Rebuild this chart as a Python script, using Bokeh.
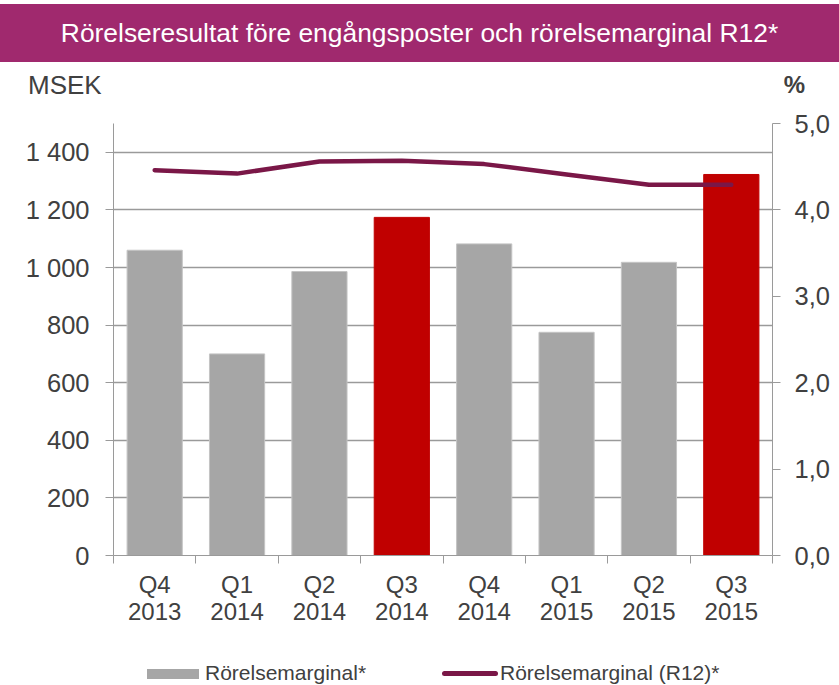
import numpy as np
from bokeh.plotting import figure
from bokeh.models import Range1d, LinearAxis, FixedTicker, Div
from bokeh.layouts import column
from bokeh.embed import file_html
from bokeh.resources import INLINE

# ---- data ----
quarters = ["Q4", "Q1", "Q2", "Q3", "Q4", "Q1", "Q2", "Q3"]
years = ["2013", "2014", "2014", "2014", "2014", "2015", "2015", "2015"]
result_msek = [1060, 700, 986, 1174, 1082, 775, 1018, 1323]
margin_r12 = [4.46, 4.42, 4.56, 4.57, 4.53, 4.41, 4.29, 4.29]
left_ticks = [0, 200, 400, 600, 800, 1000, 1200, 1400]
left_tick_labels = ["0", "200", "400", "600", "800", "1 000", "1 200", "1 400"]
right_ticks = [0, 1, 2, 3, 4, 5]
right_tick_labels = ["0,0", "1,0", "2,0", "3,0", "4,0", "5,0"]
title_text = "Rörelseresultat före engångsposter och rörelsemarginal R12*"
left_unit = "MSEK"
right_unit = "%"
bar_label = "Rörelsemarginal*"
line_label = "Rörelsemarginal (R12)*"

FONT = "Liberation Sans"
TXT = "#404040"
AX = "#9a9a9a"
GRAY = "#a6a6a6"
RED = "#c00000"
LINE = "#7a1747"
BANNER = "#a0296e"

n = len(quarters)
centers = [i + 0.5 for i in range(n)]
bounds = list(range(n + 1))
bar_colors = [RED if q == "Q3" else GRAY for q in quarters]
bar_lines = ["#c4c4c4" if q != "Q3" else RED for q in quarters]

W = 839
HEAD_H = 102
FIG_H = 548
LEG_H = 685 - HEAD_H - FIG_H

header_html = (
    f'<div style="position:relative;width:{W}px;height:{HEAD_H}px;font-family:\'{FONT}\';">'
    f'<div style="position:absolute;left:0;top:4px;width:{W}px;height:58px;'
    f'background:{BANNER};color:#ffffff;font-size:26.4px;line-height:58px;'
    f'text-align:center;white-space:nowrap;">{title_text}</div>'
    f'<div style="position:absolute;left:28px;top:72px;font-size:26px;line-height:26px;'
    f'color:{TXT};">{left_unit}</div>'
    f'<div style="position:absolute;right:34px;top:73px;font-size:24px;line-height:24px;'
    f'color:{TXT};font-weight:bold;">{right_unit}</div>'
    f'</div>'
)
header = Div(text=header_html, width=W, height=HEAD_H, margin=0)

legend_html = (
    f'<div style="position:relative;width:{W}px;height:{LEG_H}px;font-family:\'{FONT}\';'
    f'color:{TXT};font-size:21px;line-height:21px;">'
    f'<div style="position:absolute;left:147px;top:19px;width:52px;height:10px;'
    f'background:{GRAY};"></div>'
    f'<div style="position:absolute;left:205px;top:12px;white-space:nowrap;">{bar_label}</div>'
    f'<div style="position:absolute;left:442px;top:21px;width:56px;height:5px;'
    f'border-radius:2.5px;background:{LINE};"></div>'
    f'<div style="position:absolute;left:500px;top:12px;white-space:nowrap;">{line_label}</div>'
    f'</div>'
)
legend_div = Div(text=legend_html, width=W, height=LEG_H, margin=0)

p = figure(width=W, height=FIG_H, output_backend="svg", toolbar_location=None,
           x_range=Range1d(0, n), y_range=Range1d(0, 1500),
           min_border_left=113, min_border_right=67, min_border_top=21,
           min_border_bottom=FIG_H - 21 - 432)
p.extra_y_ranges = {"pct": Range1d(0, 5)}
p.outline_line_color = None
p.background_fill_color = "white"
p.border_fill_color = "white"

# x axis
xa = p.xaxis[0]
xa.ticker = FixedTicker(ticks=centers, minor_ticks=bounds)
xa.major_label_overrides = {c: f"{q}\n{y}" for c, q, y in zip(centers, quarters, years)}
xa.major_tick_out = 0
xa.major_tick_in = 0
xa.minor_tick_out = 8
xa.minor_tick_in = 0
xa.minor_tick_line_color = AX
xa.axis_line_color = AX
xa.major_label_text_font = FONT
xa.major_label_text_font_size = "24px"
xa.major_label_text_color = TXT
xa.major_label_text_line_height = 1.0
xa.major_label_standoff = 7
p.xgrid.visible = False

# left axis
ya = p.yaxis[0]
ya.ticker = FixedTicker(ticks=left_ticks)
ya.major_label_overrides = dict(zip(left_ticks, left_tick_labels))
ya.major_tick_out = 8
ya.major_tick_in = 0
ya.minor_tick_out = 0
ya.minor_tick_in = 0
ya.major_tick_line_color = AX
ya.axis_line_color = AX
ya.major_label_text_font = FONT
ya.major_label_text_font_size = "25.5px"
ya.major_label_text_color = TXT
ya.major_label_standoff = 16
p.ygrid.ticker = FixedTicker(ticks=left_ticks)
p.ygrid.grid_line_color = AX
p.ygrid.grid_line_width = 1.3

# right axis
ra = LinearAxis(y_range_name="pct", ticker=FixedTicker(ticks=right_ticks))
ra.major_label_overrides = dict(zip(right_ticks, right_tick_labels))
ra.major_tick_out = 8
ra.major_tick_in = 0
ra.minor_tick_out = 0
ra.minor_tick_in = 0
ra.major_tick_line_color = AX
ra.axis_line_color = AX
ra.major_label_text_font = FONT
ra.major_label_text_font_size = "25.5px"
ra.major_label_text_color = TXT
ra.major_label_standoff = 14
p.add_layout(ra, "right")

bars = p.vbar(x=centers, top=result_msek, width=0.67, fill_color=bar_colors,
              line_color=bar_lines, line_width=1)
ln = p.line(x=centers, y=margin_r12, y_range_name="pct", line_color=LINE,
            line_width=4.5, line_cap="round", line_join="round")

layout = column(header, p, legend_div, spacing=0)
open("out.html", "w").write(file_html(layout, INLINE))
